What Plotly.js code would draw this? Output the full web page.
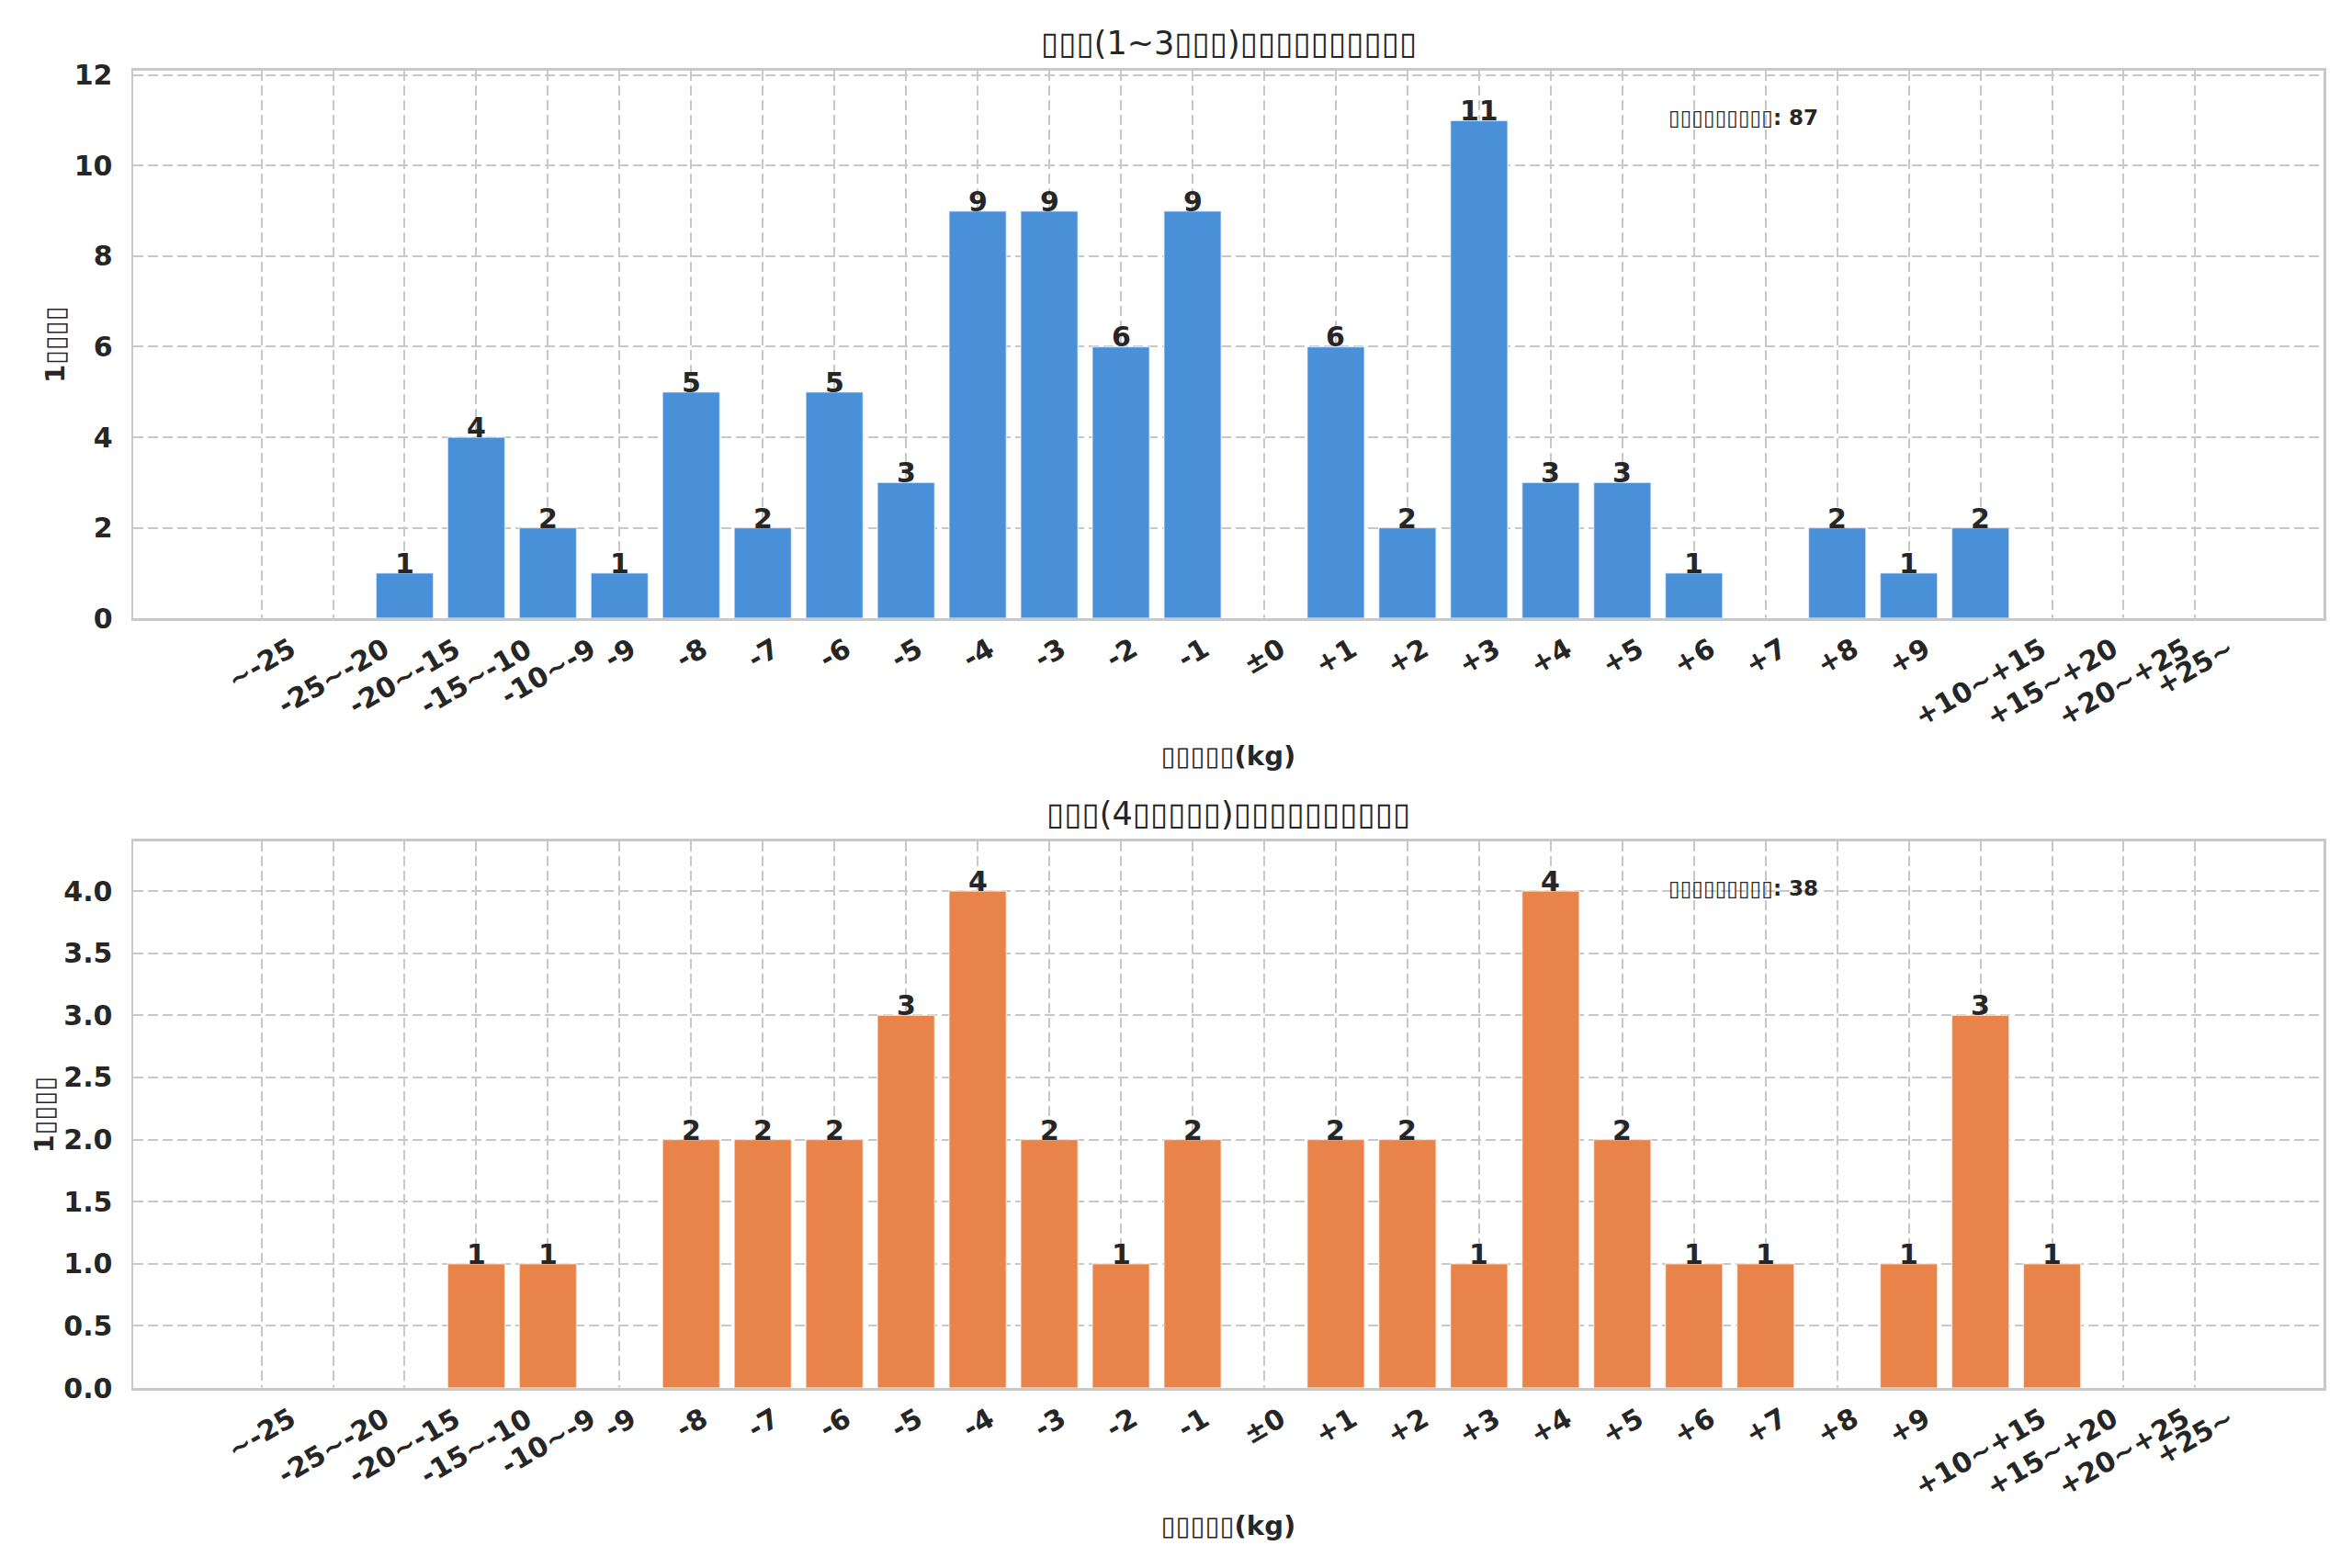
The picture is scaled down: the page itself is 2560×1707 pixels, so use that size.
<!DOCTYPE html>
<html>
<head>
<meta charset="utf-8">
<script src="https://cdn.plot.ly/plotly-3.0.1.min.js"></script>
<style>
  html, body { margin: 0; padding: 0; background: #fff; }
  #chart { width: 2560px; height: 1707px; }
</style>
</head>
<body>
<div id="chart"></div>
<script>
// weight-change bins (kg)
var categories = ['~-25', '-25~-20', '-20~-15', '-15~-10', '-10~-9', '-9', '-8', '-7', '-6', '-5',
  '-4', '-3', '-2', '-1', '±0', '+1', '+2', '+3', '+4', '+5', '+6', '+7', '+8', '+9',
  '+10~+15', '+15~+20', '+20~+25', '+25~']

// counts
var shortGap = [0, 0, 1, 4, 2, 1, 5, 2, 5, 3, 9, 9, 6, 9, 0, 6, 2, 11, 3, 3, 1, 0, 2, 1, 2, 0, 0, 0]
var longGap = [0, 0, 0, 1, 1, 0, 2, 2, 2, 3, 4, 2, 1, 2, 0, 2, 2, 1, 4, 2, 1, 1, 0, 1, 3, 1, 0, 0]

// the source font had no CJK glyphs, so the titles show as empty boxes
var titles = ['▯▯▯(1~3▯▯▯)▯▯▯▯▯▯▯▯▯▯', '▯▯▯(4▯▯▯▯▯)▯▯▯▯▯▯▯▯▯▯']
var xTitle = '▯▯▯▯▯(kg)'
var yTitle = '1▯▯▯▯'
var totalLabel = '▯▯▯▯▯▯▯▯▯'
var colors = ['#4a90d9', '#e8844a']

var ink = '#262626'
var grid = '#c8c8c8'
var font = 'DejaVu Sans, sans-serif'

function sum(a) { return a.reduce(function (s, v) { return s + v }, 0) }

var xRange = [-1.79, categories.length - 1 + 1.79]

function xAxis(anchor) {
  return {
    anchor: anchor,
    type: 'category',
    range: xRange,
    showticklabels: false,
    ticks: '',
    showgrid: true,
    gridcolor: grid,
    gridwidth: 2,
    griddash: '11px,5px',
    showline: true,
    linecolor: grid,
    linewidth: 2.5,
    mirror: true,
    zeroline: false,
    title: { text: xTitle, font: { family: font, size: 29, color: ink, weight: 'bold' }, standoff: 138 }
  }
}

function yAxis(anchor, domain, range, dtick, fmt) {
  return {
    anchor: anchor,
    domain: domain,
    range: range,
    dtick: dtick,
    tickformat: fmt,
    ticks: 'outside',
    ticklen: 14,
    tickcolor: 'rgba(0,0,0,0)',
    tickfont: { family: font, size: 30, color: ink, weight: 'bold' },
    showgrid: true,
    gridcolor: grid,
    gridwidth: 2,
    griddash: '11px,5px',
    showline: true,
    linecolor: grid,
    linewidth: 2.5,
    mirror: true,
    zeroline: false,
    title: { text: yTitle, font: { family: font, size: 29, color: ink, weight: 'bold' }, standoff: 2 }
  }
}

var series = [shortGap, longGap]
var traces = []
var annotations = []

series.forEach(function (vals, i) {
  var xa = i === 0 ? 'x' : 'x2'
  var ya = i === 0 ? 'y' : 'y2'
  traces.push({
    type: 'bar',
    x: categories,
    y: vals,
    xaxis: xa,
    yaxis: ya,
    width: 0.8,
    marker: { color: colors[i], line: { color: 'rgba(255,255,255,0.6)', width: 1.5 } },
    hoverinfo: 'x+y'
  })

  // value on top of each non-empty bar (x given as category index)
  vals.forEach(function (v, j) {
    if (v > 0) {
      annotations.push({
        xref: xa, yref: ya, x: j, y: v,
        text: String(v), showarrow: false,
        xanchor: 'center', yanchor: 'bottom', yshift: -9,
        font: { family: font, size: 30, color: ink, weight: 'bold' }
      })
    }
  })

  // rotated tick labels, centred on the tick like the original
  categories.forEach(function (c, j) {
    annotations.push({
      xref: xa, yref: ya + ' domain', x: j, y: 0,
      text: c, showarrow: false, textangle: -30,
      xanchor: 'center', yanchor: 'top', yshift: -12,
      font: { family: font, size: 30, color: ink, weight: 'bold' }
    })
  })

  // subplot title
  annotations.push({
    xref: xa + ' domain', yref: ya + ' domain', x: 0.5, y: 1, yshift: 8,
    xanchor: 'center', yanchor: 'bottom', showarrow: false,
    text: titles[i],
    font: { family: font, size: 35, color: ink }
  })

  // total count note
  annotations.push({
    xref: xa + ' domain', yref: ya + ' domain', x: 0.7, y: 0.95, yshift: -6,
    xanchor: 'left', yanchor: 'top', showarrow: false,
    text: totalLabel + ': ' + sum(vals),
    font: { family: font, size: 23, color: ink, weight: 'bold' }
  })
})

var layout = {
  width: 2560,
  height: 1707,
  margin: { l: 145, r: 31, t: 0, b: 0 },
  paper_bgcolor: '#ffffff',
  plot_bgcolor: '#ffffff',
  showlegend: false,
  bargap: 0.2,
  xaxis: xAxis('y'),
  yaxis: yAxis('x', [0.6057, 0.9549], [0, 12.1], 2, 'd'),
  xaxis2: xAxis('y2'),
  yaxis2: yAxis('x2', [0.1148, 0.4634], [0, 4.4], 0.5, '.1f'),
  annotations: annotations
}

Plotly.newPlot('chart', traces, layout, { displayModeBar: false, staticPlot: true })
</script>
</body>
</html>
